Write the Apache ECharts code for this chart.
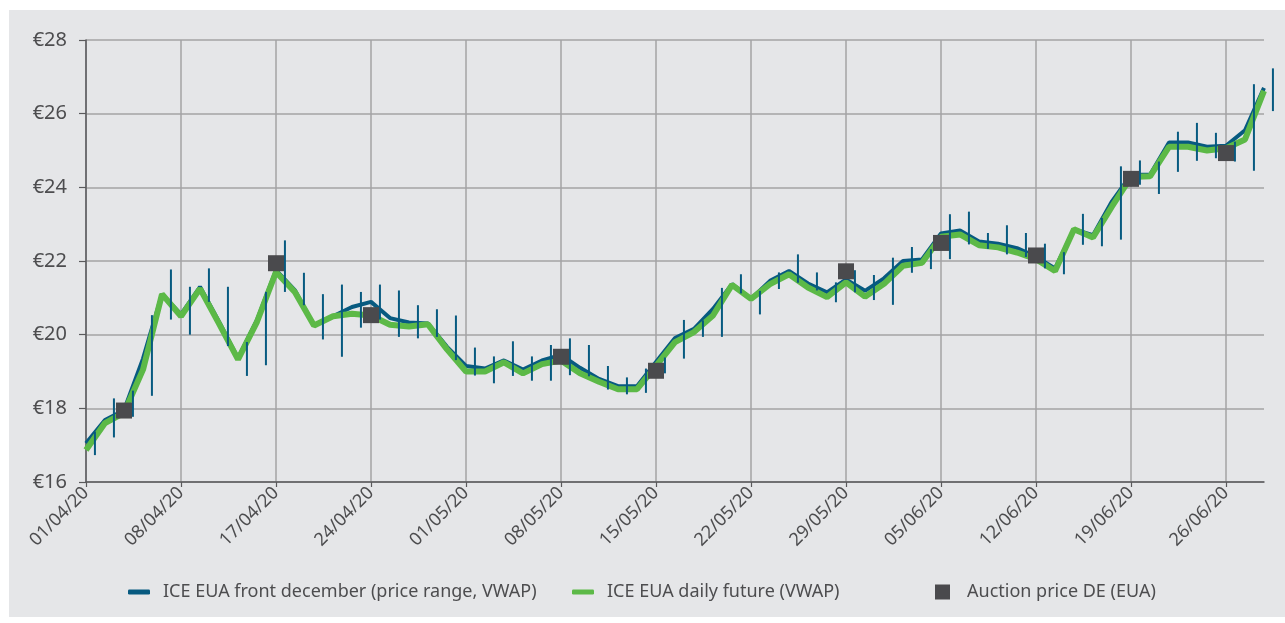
<!DOCTYPE html>
<html lang="en">
<head>
    <meta charset="UTF-8">
    <title>EUA prices Q2 2020</title>
    <script src="https://cdn.jsdelivr.net/npm/echarts@6/dist/echarts.min.js"></script>
    <style>
        body {
            margin: 0;
            background: #fff;
        }
        #chart {
            position: absolute;
            left: 9px;
            top: 10px;
            width: 1276px;
            height: 607px;
            background: #e5e6e8;
        }
    </style>
</head>
<body>
<div id="chart"></div>
<script>
    // trading days, April - June 2020
    const dates = [
        '01/04/20', '02/04/20', '03/04/20', '06/04/20', '07/04/20', '08/04/20', '09/04/20', '14/04/20',
        '15/04/20', '16/04/20', '17/04/20', '20/04/20', '21/04/20', '22/04/20', '23/04/20', '24/04/20',
        '27/04/20', '28/04/20', '29/04/20', '30/04/20', '01/05/20', '04/05/20', '05/05/20', '06/05/20',
        '07/05/20', '08/05/20', '11/05/20', '12/05/20', '13/05/20', '14/05/20', '15/05/20', '18/05/20',
        '19/05/20', '20/05/20', '21/05/20', '22/05/20', '25/05/20', '26/05/20', '27/05/20', '28/05/20',
        '29/05/20', '01/06/20', '02/06/20', '03/06/20', '04/06/20', '05/06/20', '08/06/20', '09/06/20',
        '10/06/20', '11/06/20', '12/06/20', '15/06/20', '16/06/20', '17/06/20', '18/06/20', '19/06/20',
        '22/06/20', '23/06/20', '24/06/20', '25/06/20', '26/06/20', '29/06/20', '30/06/20'
    ];

    // ICE EUA front december, VWAP
    const frontDecVwap = [
        17.05, 17.68, 17.95, 19.35, 21.10, 20.55, 21.30, 20.35, 19.36, 20.40,
        21.75, 21.20, 20.25, 20.50, 20.75, 20.89, 20.45, 20.33, 20.30, 19.67,
        19.15, 19.08, 19.30, 19.05, 19.30, 19.45, 19.10, 18.80, 18.60, 18.60,
        19.26, 19.91, 20.16, 20.70, 21.37, 20.97, 21.46, 21.73, 21.39, 21.15,
        21.50, 21.19, 21.53, 22.00, 22.04, 22.75, 22.83, 22.53, 22.47, 22.35,
        22.12, 21.80, 22.86, 22.70, 23.62, 24.34, 24.34, 25.22, 25.22, 25.10,
        25.13, 25.55, 26.70
    ];

    // ICE EUA front december, daily low / high
    const frontDecLow = [
        16.73, 17.21, 17.77, 18.34, 20.41, 20.00, 20.89, 19.69, 18.88, 19.17,
        21.16, 20.80, 19.87, 19.40, 20.19, 20.41, 19.94, 19.90, 19.94, 19.31,
        18.89, 18.68, 18.88, 18.75, 18.75, 18.90, 18.87, 18.51, 18.38, 18.42,
        18.95, 19.35, 19.94, 19.94, 21.12, 20.55, 21.24, 21.41, 21.20, 20.88,
        21.15, 20.94, 20.81, 21.68, 21.78, 22.05, 22.45, 22.33, 22.18, 22.11,
        21.80, 21.64, 22.44, 22.40, 22.58, 24.07, 23.82, 24.42, 24.72, 24.79,
        24.70, 24.45, 26.07
    ];
    const frontDecHigh = [
        17.37, 18.27, 18.48, 20.53, 21.77, 21.30, 21.80, 21.30, 19.80, 21.16,
        22.56, 21.68, 21.10, 21.36, 21.16, 21.36, 21.20, 20.80, 20.69, 20.52,
        19.65, 19.41, 19.82, 19.41, 19.72, 19.90, 19.72, 19.15, 18.84, 19.08,
        19.38, 20.40, 20.39, 21.27, 21.64, 21.19, 21.69, 22.18, 21.69, 21.42,
        21.75, 21.62, 22.09, 22.38, 22.32, 23.27, 23.34, 22.76, 22.97, 22.76,
        22.47, 22.24, 23.28, 23.17, 24.57, 24.73, 24.70, 25.51, 25.75, 25.48,
        25.24, 26.80, 27.23
    ];

    // ICE EUA daily future, VWAP
    const dailyFutureVwap = [
        16.87, 17.60, 17.88, 19.05, 21.10, 20.50, 21.25, 20.30, 19.33, 20.35,
        21.70, 21.15, 20.25, 20.50, 20.57, 20.52, 20.27, 20.22, 20.28, 19.60,
        19.00, 19.00, 19.25, 18.95, 19.20, 19.30, 18.95, 18.72, 18.52, 18.52,
        19.15, 19.80, 20.07, 20.52, 21.35, 20.97, 21.37, 21.64, 21.28, 21.02,
        21.42, 21.03, 21.38, 21.87, 21.95, 22.66, 22.72, 22.43, 22.37, 22.23,
        22.05, 21.73, 22.86, 22.64, 23.48, 24.28, 24.30, 25.10, 25.10, 25.00,
        25.06, 25.30, 26.62
    ];

    // German auctions
    const auctionDates = ['03/04/20', '17/04/20', '24/04/20', '08/05/20', '15/05/20',
        '29/05/20', '05/06/20', '12/06/20', '19/06/20', '26/06/20'];
    const auctionPrices = [17.94, 21.94, 20.53, 19.40, 19.02, 21.72, 22.49, 22.15, 24.23, 24.93];

    const yTicks = {min: 16, max: 28, step: 2};

    const BLUE = '#075a80';
    const GREEN = '#5cb947';
    const GREY = '#4a4a4d';
    const TEXT = '#4d4d4f';
    const FONT = '"Noto Sans", sans-serif';

    (function () {
        drawChart();
    })();

    function drawChart() {
        let myChart = echarts.init(document.getElementById('chart'));

        let ranges = dates.map(function (d, i) {
            return [i, frontDecLow[i], frontDecHigh[i]];
        });
        let auctions = auctionDates.map(function (d, i) {
            return [d, auctionPrices[i]];
        });

        let legendText = function (gap) {
            return {
                color: TEXT,
                fontSize: 18,
                fontFamily: FONT,
                padding: [0, 0, 0, gap]
            };
        };

        let option = {
            animation: false,
            backgroundColor: 'transparent',
            grid: {
                left: 77,
                top: 30,
                right: 21,
                bottom: 135
            },
            legend: [{
                left: 119,
                top: 573,
                padding: 0,
                icon: 'roundRect',
                itemWidth: 22,
                itemHeight: 5,
                textStyle: legendText(8),
                data: ['ICE EUA front december (price range, VWAP)']
            }, {
                left: 563,
                top: 573,
                padding: 0,
                icon: 'roundRect',
                itemWidth: 22,
                itemHeight: 5,
                textStyle: legendText(8),
                data: ['ICE EUA daily future (VWAP)']
            }, {
                left: 926,
                top: 573,
                padding: 0,
                icon: 'rect',
                itemWidth: 15,
                itemHeight: 15,
                textStyle: legendText(12),
                data: ['Auction price DE (EUA)']
            }],
            xAxis: {
                type: 'category',
                boundaryGap: false,
                data: dates,
                axisLine: {
                    lineStyle: {color: '#5a5a5c', width: 1.5}
                },
                axisTick: {
                    interval: 4,
                    length: 5,
                    lineStyle: {color: '#5a5a5c', width: 1.2}
                },
                axisLabel: {
                    interval: 4,
                    rotate: 45,
                    margin: 8,
                    color: TEXT,
                    fontSize: 18,
                    fontFamily: FONT
                },
                splitLine: {
                    show: true,
                    interval: 4,
                    lineStyle: {color: '#a3a3a5', width: 1.5}
                }
            },
            yAxis: {
                type: 'value',
                min: yTicks.min,
                max: yTicks.max,
                interval: yTicks.step,
                axisLine: {
                    show: true,
                    lineStyle: {color: '#5a5a5c', width: 1.5}
                },
                axisTick: {
                    show: true,
                    length: 7,
                    lineStyle: {color: '#5a5a5c', width: 1.2}
                },
                axisLabel: {
                    formatter: '€{value}',
                    margin: 19,
                    color: TEXT,
                    fontSize: 20,
                    fontFamily: FONT
                },
                splitLine: {
                    lineStyle: {color: '#a3a3a5', width: 1.5}
                }
            },
            series: [{
                name: 'ICE EUA front december (price range, VWAP)',
                type: 'line',
                data: frontDecVwap,
                showSymbol: false,
                color: BLUE,
                lineStyle: {width: 4, color: BLUE},
                z: 2
            }, {
                name: 'ICE EUA daily future (VWAP)',
                type: 'line',
                data: dailyFutureVwap,
                showSymbol: false,
                color: GREEN,
                lineStyle: {width: 6, color: GREEN},
                z: 3
            }, {
                name: 'ICE EUA front december (price range, VWAP)',
                type: 'custom',
                data: ranges,
                color: BLUE,
                clip: false,
                z: 4,
                renderItem: function (params, api) {
                    let lo = api.coord([api.value(0), api.value(1)]);
                    let hi = api.coord([api.value(0), api.value(2)]);
                    // bars sit half a day to the right of the VWAP point
                    let shift = api.size([1, 0])[0] * 0.47;
                    return {
                        type: 'line',
                        shape: {x1: lo[0] + shift, y1: lo[1], x2: hi[0] + shift, y2: hi[1]},
                        style: {stroke: BLUE, lineWidth: 2}
                    };
                }
            }, {
                name: 'Auction price DE (EUA)',
                type: 'scatter',
                data: auctions,
                symbol: 'rect',
                symbolSize: 16,
                color: GREY,
                itemStyle: {color: GREY, opacity: 1},
                z: 5
            }]
        };

        myChart.setOption(option);
    }
</script>
</body>
</html>
